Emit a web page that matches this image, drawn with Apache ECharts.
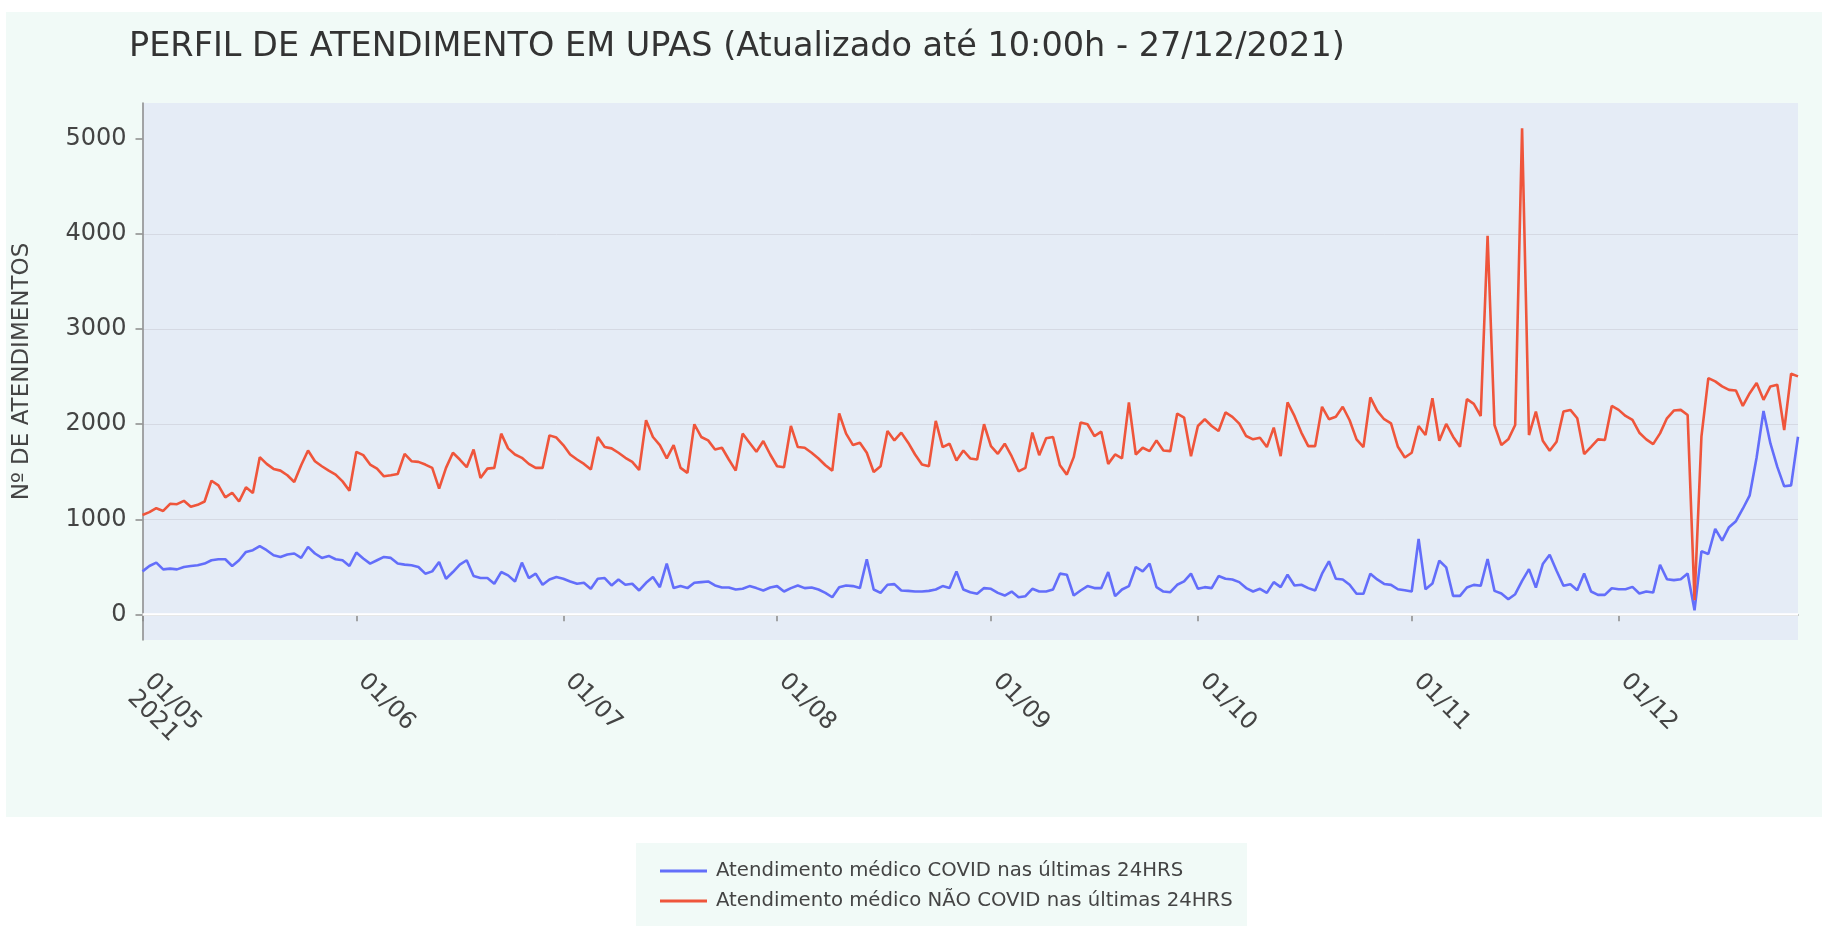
<!DOCTYPE html>
<html>
<head>
<meta charset="utf-8">
<title>Perfil de atendimento em UPAs</title>
<script src="https://cdn.jsdelivr.net/npm/echarts@6/dist/echarts.min.js"></script>
<style>
html,body{margin:0;padding:0;background:#fff;}
#main{width:1831px;height:926px;}
</style>
</head>
<body>
<div id="main"></div>
<script>
// dados (01/05/2021 a 27/12/2021, um valor por dia)
var inicio = '2021-05-01';
var covid = [
	452,509,544,473,481,473,498,509,516,534,569,580,580,509,569,657,675,717,675,622,
	604,629,640,594,710,640,594,615,580,569,509,650,587,534,569,604,594,534,523,516,
	498,428,452,551,375,445,523,569,403,382,382,322,445,410,346,544,382,428,311,367,
	392,375,346,322,332,269,375,382,304,367,311,322,251,332,392,286,534,276,297,276,
	332,339,346,304,283,283,261,269,297,276,251,283,297,240,276,304,276,283,261,226,
	180,286,304,297,276,580,261,226,311,318,251,247,240,240,247,261,297,276,452,261,
	233,216,276,269,226,198,240,180,191,269,240,240,261,428,417,198,251,297,276,276,
	445,191,261,297,498,452,534,286,240,233,311,346,428,269,286,276,403,375,367,339,
	276,240,269,226,339,286,417,304,311,276,251,428,558,375,367,311,216,216,428,367,
	320,310,264,254,240,793,264,324,564,494,194,194,282,310,300,582,247,219,159,212,
	353,476,282,529,628,458,300,317,254,430,240,205,205,275,264,264,289,219,240,229,
	522,370,360,370,430,42,663,635,899,776,917,980,1111,1252,1650,2140,1798,1551,1347,1357,
	1869
];
var naoCovid = [
	1046,1075,1117,1088,1163,1159,1194,1131,1152,1187,1406,1357,1230,1279,1187,1336,1276,1654,1583,1530,
	1512,1463,1392,1569,1724,1611,1558,1512,1470,1399,1300,1710,1675,1576,1533,1452,1463,1477,1689,1611,
	1604,1576,1541,1322,1541,1700,1629,1548,1735,1435,1533,1541,1901,1746,1682,1647,1583,1541,1541,1883,
	1860,1781,1682,1629,1583,1523,1866,1760,1746,1700,1647,1604,1519,2042,1866,1781,1640,1781,1541,1488,
	2000,1866,1830,1735,1753,1629,1512,1901,1806,1710,1823,1682,1558,1548,1982,1760,1753,1700,1640,1569,
	1512,2113,1901,1781,1806,1700,1498,1558,1929,1830,1912,1806,1682,1576,1558,2035,1760,1795,1618,1724,
	1640,1629,2000,1770,1689,1795,1664,1505,1541,1912,1675,1852,1866,1569,1470,1654,2018,2000,1876,1922,
	1583,1682,1640,2230,1682,1753,1717,1830,1724,1717,2113,2071,1664,1982,2053,1982,1929,2124,2078,2007,
	1876,1841,1859,1760,1965,1664,2230,2088,1912,1770,1770,2184,2053,2078,2184,2042,1841,1760,2283,2141,
	2053,2010,1763,1650,1700,1982,1886,2274,1827,2003,1869,1763,2264,2214,2087,3984,1992,1781,1841,1992,
	5113,1886,2133,1827,1721,1816,2133,2151,2063,1686,1763,1841,1834,2193,2151,2087,2045,1911,1841,1791,
	1904,2063,2144,2151,2098,150,1869,2486,2451,2398,2362,2355,2193,2327,2433,2257,2398,2415,1939,2532,
	2504
];
var yTicks = [0,1000,2000,3000,4000,5000];
var nomes = ['Atendimento médico COVID nas últimas 24HRS', 'Atendimento médico NÃO COVID nas últimas 24HRS'];

// um dia por ponto
var dias = [];
var d0 = new Date(inicio + 'T12:00:00Z');
for(var i=0;i<covid.length;i++){
	var d = new Date(d0.getTime() + i*86400000);
	dias.push(d.toISOString().slice(0,10));
}
function primeiroDia(idx, v){
	return v.slice(8,10) == '01';
}

var myChart = echarts.init(document.getElementById('main'));
var option = {
	animation: false,
	backgroundColor: '#f1faf7',
	textStyle: { fontFamily: 'DejaVu Sans' },
	graphic: [
		{ type:'rect', left:0, top:0, shape:{width:1831, height:12}, style:{fill:'#fff'}, silent:true },
		{ type:'rect', left:0, top:0, shape:{width:6, height:926}, style:{fill:'#fff'}, silent:true },
		{ type:'rect', left:1822, top:0, shape:{width:9, height:926}, style:{fill:'#fff'}, silent:true },
		{ type:'rect', left:0, top:817, shape:{width:1831, height:109}, style:{fill:'#fff'}, silent:true },
		{ type:'rect', left:636, top:843, shape:{width:611, height:83}, style:{fill:'#f1faf7'}, silent:true }
	],
	title: {
		text: 'PERFIL DE ATENDIMENTO EM UPAS (Atualizado até 10:00h - 27/12/2021)',
		left: 124,
		top: 25,
		textStyle: { fontSize: 33.5, fontWeight: 'normal', color: '#333', fontFamily: 'DejaVu Sans' }
	},
	legend: {
		orient: 'vertical',
		left: 655,
		top: 856,
		itemWidth: 47,
		itemHeight: 3,
		itemGap: 10,
		icon: 'rect',
		textStyle: { fontSize: 19.7, color: '#444', padding: [0,0,0,4] },
		data: nomes
	},
	grid: {
		left: 142.5, right: 33, top: 103, bottom: 286,
		show: true, backgroundColor: '#e5ecf6', borderWidth: 0
	},
	xAxis: {
		type: 'category',
		data: dias,
		boundaryGap: false,
		axisLine: { lineStyle: { color: '#8a8a8a', width: 1.5 } },
		axisTick: { interval: primeiroDia, length: 7, lineStyle: { color: '#8a8a8a', width: 1.5 } },
		axisLabel: {
			interval: primeiroDia,
			rotate: -45,
			verticalAlign: 'top',
			margin: 15,
			padding: [0,0,0,20],
			color: '#444',
			fontSize: 24,
			formatter: function(v, idx){
				var s = v.slice(8,10) + '/' + v.slice(5,7);
				if(idx == 0){
					s = s + '\n' + v.slice(0,4);
				}
				return s;
			}
		},
		splitLine: { show: false }
	},
	yAxis: {
		type: 'value',
		min: -270,
		max: 5380,
		minInterval: 1000,
		maxInterval: 1000,
		name: 'Nº DE ATENDIMENTOS',
		nameLocation: 'middle',
		nameRotate: 90,
		nameGap: 109,
		nameTextStyle: { fontSize: 23, color: '#444' },
		axisLine: { show: true, lineStyle: { color: '#8a8a8a', width: 1.5 } },
		axisTick: { show: true, length: 7, customValues: yTicks, lineStyle: { color: '#8a8a8a', width: 1.5 } },
		axisLabel: {
			margin: 16, fontSize: 24, color: '#444', customValues: yTicks,
			formatter: function(v){ return v % 1000 == 0 ? v : ''; }
		},
		splitLine: { showMinLine: false, showMaxLine: false, lineStyle: { color: '#d5d9e3', width: 1 } }
	},
	series: [
		{
			name: nomes[0],
			type: 'line',
			data: covid,
			symbol: 'none',
			z: 3,
			lineStyle: { width: 2.6, color: '#636efa' },
			itemStyle: { color: '#636efa' },
			markLine: {
				silent: true, symbol: 'none', z: 1,
				label: { show: false },
				lineStyle: { color: '#ffffff', width: 2.5, type: 'solid' },
				data: [ { yAxis: 0 } ]
			}
		},
		{
			name: nomes[1],
			type: 'line',
			data: naoCovid,
			symbol: 'none',
			z: 4,
			lineStyle: { width: 2.6, color: '#ef553b' },
			itemStyle: { color: '#ef553b' }
		}
	]
};
myChart.setOption(option);
</script>
</body>
</html>
